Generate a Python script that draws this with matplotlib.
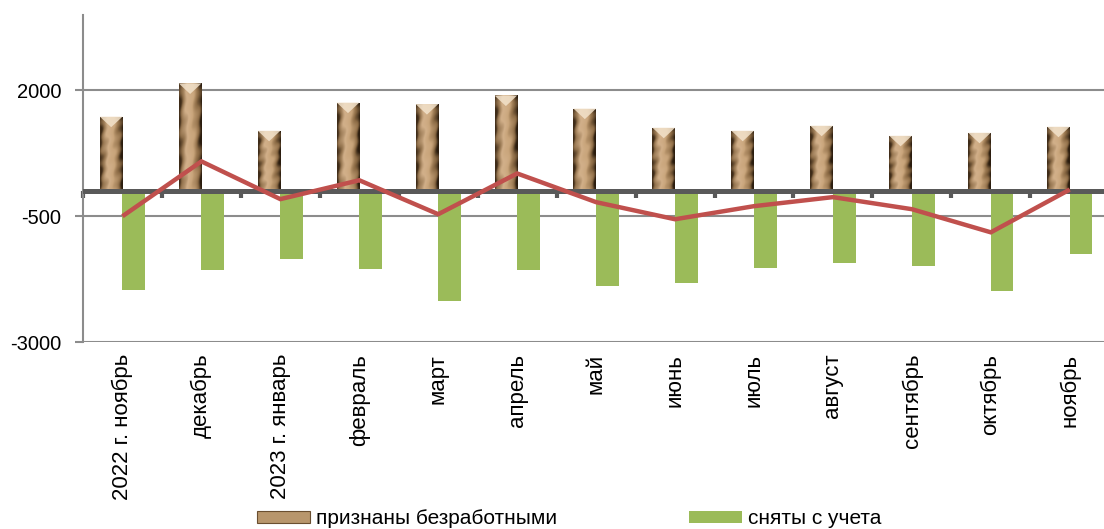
import numpy as np
import matplotlib
matplotlib.use("Agg")
import matplotlib.pyplot as plt
from matplotlib.patches import Patch, Polygon
from matplotlib.colors import LinearSegmentedColormap

plt.rcParams['font.family'] = ['Liberation Sans', 'DejaVu Sans']

categories = ["2022 г. ноябрь", "декабрь", "2023 г. январь", "февраль", "март",
              "апрель", "май", "июнь", "июль", "август", "сентябрь", "октябрь", "ноябрь"]
recognized = [1480, 2140, 1200, 1760, 1730, 1900, 1640, 1260, 1200, 1300, 1100, 1160, 1280]
removed = [-1960, -1570, -1360, -1550, -2190, -1570, -1880, -1820, -1530, -1430, -1480, -1980, -1260]
net = [-500, 590, -160, 215, -460, 350, -220, -560, -300, -120, -360, -820, 30]
yticks = [2000, -500, -3000]

W, H = 1104, 529
fig = plt.figure(figsize=(W / 100, H / 100), dpi=100)
ax = fig.add_axes([83 / W, (529 - 342) / H, (1104 - 83) / W, (342 - 15) / H])

x = np.arange(len(categories))
bw = 0.288
off = 0.143

# brown textured bars
brown_cmap = LinearSegmentedColormap.from_list(
    "sand",
    [(0.0, "#3e2b18"), (0.12, "#8f6f4a"), (0.35, "#d2b08a"), (0.6, "#c9a57b"),
     (0.85, "#8c6b45"), (1.0, "#2a1c0e")])
bars_b = ax.bar(x - off, recognized, width=bw, color="#b8966c", zorder=2,
                edgecolor="none")
nx, ny = 40, 120
gx = np.linspace(0, 1, nx)
gy = np.linspace(0, 1, ny)
GX, GY = np.meshgrid(gx, gy)
tex = GX + 0.08 * np.sin(GY * 23 + GX * 9) * np.sin(GY * 11 - GX * 5)
tex = np.clip(tex, 0, 1)
rgb = brown_cmap(tex)
for b in bars_b:
    x0, w, h = b.get_x(), b.get_width(), b.get_height()
    im = ax.imshow(rgb, extent=[x0, x0 + w, 0, h], aspect="auto", zorder=2.1,
                   interpolation="bilinear")
    im.set_clip_path(b)
    bev = 210
    tri = Polygon([[x0, h], [x0 + w, h], [x0 + w / 2, h - bev]], closed=True,
                  facecolor="#f3e3cc", edgecolor="none", alpha=0.85, zorder=2.2)
    ax.add_patch(tri)

ax.bar(x + off, removed, width=bw, color="#9bbb59", zorder=2, edgecolor="none")

ax.plot(x, net, color="#c0504d", lw=3.2, zorder=5, solid_capstyle="butt",
        solid_joinstyle="miter")

ax.axhline(0, color="#595959", lw=3.6, zorder=4)

ax.set_xlim(-0.5, -0.5 + 1021 / 78.94)
ax.set_ylim(-3000, 3500)

ax.set_yticks(yticks)
ax.set_yticklabels([str(v) for v in yticks])
ax.yaxis.grid(True, color="#8c8c8c", lw=1.5, zorder=0)
ax.set_axisbelow(True)
ax.tick_params(axis="y", length=6, width=1.5, color="#8c8c8c", pad=9.5,
               labelsize=14.5, labelcolor="black")

ax.set_xticks(x)
ax.set_xticklabels(categories, rotation=90, fontsize=16)
ax.tick_params(axis="x", length=0, pad=8.5)

for s in ["top", "right", "bottom"]:
    ax.spines[s].set_visible(False)
ax.spines["left"].set_color("#8c8c8c")
ax.spines["left"].set_linewidth(1.5)

# boundary ticks on zero line
zero_frac = (0 - (-3000)) / (3500 - (-3000))
sec = ax.secondary_xaxis(zero_frac)
sec.set_xticks(np.arange(len(categories)) - 0.5)
sec.tick_params(length=5, width=3, color="#595959", labelbottom=False)
sec.spines["bottom"].set_visible(False)

handles = [Patch(facecolor="#b8966c", edgecolor="#6b4f30", lw=0.8,
                 label="признаны безработными"),
           Patch(facecolor="#9bbb59", edgecolor="none", label="сняты с учета")]
fig.legend(handles=handles, loc="center", bbox_to_anchor=(569 / W, 10 / H),
           ncol=2, frameon=False, fontsize=15, handlelength=2.55,
           handleheight=0.5, handletextpad=0.3, columnspacing=6.3,
           borderaxespad=0, borderpad=0)

fig.savefig("out.png", dpi=100)
